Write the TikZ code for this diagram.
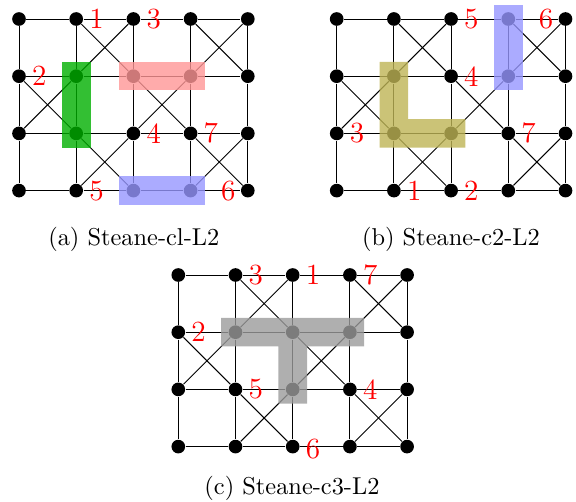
\documentclass[tikz,border=0pt]{standalone}
\usetikzlibrary{calc}
\definecolor{hlgreen}{RGB}{0,175,0}
\definecolor{hlred}{RGB}{255,150,150}
\definecolor{hlblue}{RGB}{150,150,255}
\definecolor{hlolive}{RGB}{190,180,85}
\definecolor{hlgray}{RGB}{155,155,155}
\tikzset{
  dot/.style={circle, fill=black, inner sep=0pt, minimum size=5.6pt},
  edge/.style={draw=black, line width=0.4pt},
  num/.style={text=red, font=\large, inner sep=0pt},
  hl/.style={opacity=0.8},
  capt/.style={font=\normalsize, anchor=base, inner sep=0pt},
}
\def\pd{14.3}
\newcommand\gridnet{%
  \foreach \i in {0,...,4}{\foreach \j in {0,...,3}{\node[dot] (\i-\j) at (57.2*\i,57.2*\j) {};}}%
  \foreach \i in {0,...,3}{\foreach \j in {0,...,3}{\pgfmathtruncatemacro\ii{\i+1}\draw[edge] (\i-\j) -- (\ii-\j);}}%
  \foreach \i in {0,...,4}{\foreach \j in {0,...,2}{\pgfmathtruncatemacro\jj{\j+1}\draw[edge] (\i-\j) -- (\i-\jj);}}%
  \foreach \i in {0,...,3}{\foreach \j in {0,...,2}{%
     \pgfmathtruncatemacro\ss{mod(\i+\j,2)}%
     \ifnum\ss=1
       \pgfmathtruncatemacro\ii{\i+1}\pgfmathtruncatemacro\jj{\j+1}%
       \draw[edge] (\i-\j) -- (\ii-\jj);
       \draw[edge] (\ii-\j) -- (\i-\jj);
     \fi}}%
}
\begin{document}
\begin{tikzpicture}[x=0.41pt,y=-0.41pt]
\useasboundingbox (0,0) rectangle (576,502);
% grids
\begin{scope}[shift={(19,19)}, name prefix=a-]\gridnet\end{scope}
\begin{scope}[shift={(336.7,19)}, name prefix=b-]\gridnet\end{scope}
\begin{scope}[shift={(178.3,275)}, name prefix=c-]\gridnet\end{scope}
% highlights (a)
\fill[hlgreen,hl] ($(a-1-1)+(-\pd,-\pd)$) rectangle ($(a-1-2)+(\pd,\pd)$);
\fill[hlred,hl] ($(a-2-1)+(-\pd,-\pd)$) rectangle ($(a-3-1)+(\pd,\pd)$);
\fill[hlblue,hl] ($(a-2-3)+(-\pd,-\pd)$) rectangle ($(a-3-3)+(\pd,\pd)$);
% highlights (b)
\fill[hlolive,hl] ($(b-1-1)+(-\pd,-\pd)$) -- ($(b-1-1)+(\pd,-\pd)$) -- ($(b-1-2)+(\pd,-\pd)$)
  -- ($(b-2-2)+(\pd,-\pd)$) -- ($(b-2-2)+(\pd,\pd)$) -- ($(b-1-2)+(-\pd,\pd)$) -- cycle;
\fill[hlblue,hl] ($(b-3-0)+(-\pd,-\pd)$) rectangle ($(b-3-1)+(\pd,\pd)$);
% highlights (c)
\fill[hlgray,hl] ($(c-1-1)+(-\pd,-\pd)$) -- ($(c-3-1)+(\pd,-\pd)$) -- ($(c-3-1)+(\pd,\pd)$)
  -- ($(c-2-1)+(\pd,\pd)$) -- ($(c-2-2)+(\pd,\pd)$) -- ($(c-2-2)+(-\pd,\pd)$)
  -- ($(c-2-1)+(-\pd,\pd)$) -- ($(c-1-1)+(-\pd,\pd)$) -- cycle;
% labels (a)
\node[num] (la1) at ($(a-1-0)+(20.3,0)$) {1};
\node[num] (la3) at ($(a-2-0)+(20.3,0)$) {3};
\node[num] (la2) at ($(a-0-1)+(20.3,0)$) {2};
\node[num] (la4) at ($(a-2-2)+(20.3,0)$) {4};
\node[num] (la7) at ($(a-3-2)+(20.3,0)$) {7};
\node[num] (la5) at ($(a-1-3)+(20.3,0)$) {5};
\node[num] (la6) at ($(a-4-3)+(-19.5,0)$) {6};
% labels (b)
\node[num] (lb5) at ($(b-2-0)+(20.3,0)$) {5};
\node[num] (lb6) at ($(b-4-0)+(-19.5,0)$) {6};
\node[num] (lb4) at ($(b-2-1)+(20.3,0)$) {4};
\node[num] (lb3) at ($(b-0-2)+(20.3,0)$) {3};
\node[num] (lb7) at ($(b-3-2)+(20.3,0)$) {7};
\node[num] (lb1) at ($(b-1-3)+(20.3,0)$) {1};
\node[num] (lb2) at ($(b-2-3)+(20.3,0)$) {2};
% labels (c)
\node[num] (lc3) at ($(c-1-0)+(20.3,0)$) {3};
\node[num] (lc1) at ($(c-2-0)+(20.3,0)$) {1};
\node[num] (lc7) at ($(c-3-0)+(20.3,0)$) {7};
\node[num] (lc2) at ($(c-0-1)+(20.3,0)$) {2};
\node[num] (lc5) at ($(c-1-2)+(20.3,0)$) {5};
\node[num] (lc4) at ($(c-3-2)+(20.3,0)$) {4};
\node[num] (lc6) at ($(c-2-3)+(20.3,2)$) {6};
% captions
\node[capt] (capa) at (133.8,246) {(a) Steane-cl-L2};
\node[capt] (capb) at (451,246) {(b) Steane-c2-L2};
\node[capt] (capc) at (292,494.7) {(c) Steane-c3-L2};
\end{tikzpicture}
\end{document}
